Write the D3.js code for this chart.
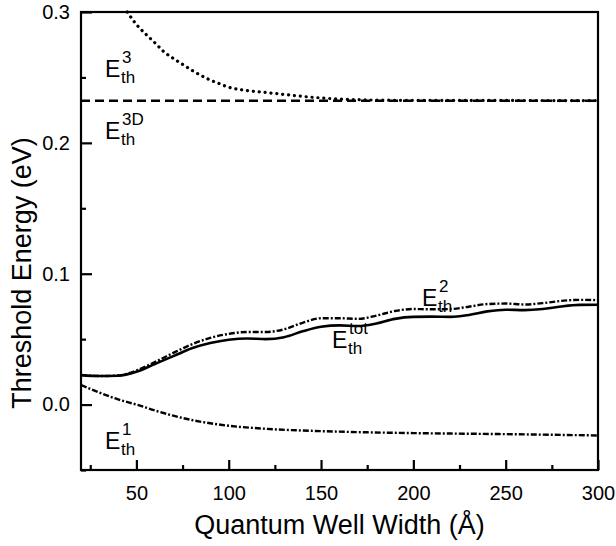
<!DOCTYPE html>
<html>
<head>
<meta charset="utf-8">
<script src="https://cdn.jsdelivr.net/npm/d3@7"></script>
<style>
  body { margin: 0; background: #fff; }
  svg text { font-family: "Liberation Sans", Arial, Helvetica, sans-serif; fill: #000; }
</style>
</head>
<body>
<svg id="svg" width="616" height="546"></svg>
<script>
'use strict';

// Quantum well width (Angstrom) grids and threshold energies (eV)
const widthTot = [20, 30, 40, 50, 60, 70, 80, 90, 100, 110, 120, 130, 140, 150, 160, 170, 180, 190, 200, 210, 220, 230, 240, 250, 260, 270, 280, 290, 300];
const eTot = [0.0225, 0.0218, 0.0220, 0.0250, 0.0310, 0.0370, 0.0430, 0.0470, 0.0495, 0.0505, 0.0500, 0.0515, 0.0560, 0.0595, 0.0605, 0.0600, 0.0620, 0.0655, 0.0670, 0.0672, 0.0670, 0.0685, 0.0712, 0.0725, 0.0722, 0.0730, 0.0750, 0.0762, 0.0763];
const e2 = [0.0225, 0.0218, 0.0222, 0.0260, 0.0325, 0.0395, 0.0460, 0.0510, 0.0540, 0.0555, 0.0555, 0.0575, 0.0625, 0.0660, 0.0660, 0.0655, 0.0680, 0.0715, 0.0730, 0.0728, 0.0730, 0.0748, 0.0768, 0.0772, 0.0765, 0.0775, 0.0792, 0.0800, 0.0798];

const width1 = [20, 30, 40, 50, 60, 70, 80, 90, 100, 120, 150, 175, 200, 250, 300];
const e1 = [0.0150, 0.0092, 0.0040, 0.0000, -0.0045, -0.0085, -0.0118, -0.0143, -0.0162, -0.0185, -0.0203, -0.0212, -0.0218, -0.0226, -0.0236];

const width3 = [45, 50, 55, 60, 65, 70, 75, 80, 85, 90, 95, 100, 110, 120, 130, 140, 150, 160, 170, 180, 200, 250, 300];
const e3 = [0.300, 0.2905, 0.2832, 0.2765, 0.2695, 0.2645, 0.2600, 0.2555, 0.2515, 0.2480, 0.2452, 0.2425, 0.2400, 0.2385, 0.2370, 0.2355, 0.2343, 0.2335, 0.2330, 0.2327, 0.2325, 0.2324, 0.2323];

const width3D = [20, 300];
const e3D = [0.2322, 0.2322];

const xTicks = [50, 100, 150, 200, 250, 300];
const xMinorTicks = [25, 75, 125, 175, 225, 275];
const yTicks = [0.0, 0.1, 0.2, 0.3];
const yMinorTicks = [-0.05, 0.05, 0.15, 0.25];

const margin = { left: 81, right: 18, top: 12, bottom: 76 };
const W = 616, H = 546;

const svg = d3.select('#svg');

const x = d3.scaleLinear().domain([20, 300]).range([margin.left, W - margin.right]);
const y = d3.scaleLinear().domain([-0.05, 0.3]).range([H - margin.bottom, margin.top]);

// Curves
const series = [
  { xs: width3D, ys: e3D, dash: '9,5', sw: 2.4, cap: 'butt' },
  { xs: width3, ys: e3, dash: '0.1,5.8', sw: 3.2, cap: 'round' },
  { xs: width1, ys: e1, dash: '6,2,2,2', sw: 2.4, cap: 'butt' },
  { xs: widthTot, ys: e2, dash: '6,2,2,2', sw: 2.4, cap: 'butt' },
  { xs: widthTot, ys: eTot, dash: null, sw: 2.6, cap: 'butt' },
];

const line = d3.line().x(d => x(d[0])).y(d => y(d[1])).curve(d3.curveMonotoneX);

const plot = svg.append('g');
series.forEach(s => {
  plot.append('path')
    .datum(s.xs.map((v, i) => [v, s.ys[i]]))
    .attr('d', line)
    .attr('fill', 'none')
    .attr('stroke', '#000')
    .attr('stroke-width', s.sw)
    .attr('stroke-linecap', s.cap)
    .attr('stroke-dasharray', s.dash);
});

// Frame
svg.append('rect')
  .attr('x', x(20)).attr('y', y(0.3))
  .attr('width', x(300) - x(20)).attr('height', y(-0.05) - y(0.3))
  .attr('fill', 'none').attr('stroke', '#000').attr('stroke-width', 2.2);

// Axes, ticks point inward
const xAxis = svg.append('g').attr('transform', `translate(0,${y(-0.05)})`)
  .call(d3.axisBottom(x).tickValues(xTicks).tickSizeInner(-10).tickSizeOuter(0).tickPadding(16));
const xMinor = svg.append('g').attr('transform', `translate(0,${y(-0.05)})`)
  .call(d3.axisBottom(x).tickValues(xMinorTicks).tickSize(-5).tickFormat(''));
const yAxis = svg.append('g').attr('transform', `translate(${x(20)},0)`)
  .call(d3.axisLeft(y).tickValues(yTicks).tickFormat(d3.format('.1f')).tickSizeInner(-11).tickSizeOuter(0).tickPadding(11));
const yMinor = svg.append('g').attr('transform', `translate(${x(20)},0)`)
  .call(d3.axisLeft(y).tickValues(yMinorTicks).tickSize(-5).tickFormat(''));

[xAxis, xMinor, yAxis, yMinor].forEach(g => {
  g.select('.domain').remove();
  g.selectAll('.tick line').attr('stroke', '#000').attr('stroke-width', 2.2);
  g.selectAll('.tick text').attr('font-size', 20).attr('font-family', '"Liberation Sans", Arial, sans-serif');
});

// Axis titles
svg.append('text')
  .attr('x', (x(20) + x(300)) / 2).attr('y', 534)
  .attr('text-anchor', 'middle').attr('font-size', 27)
  .text('Quantum Well Width (\u00C5)');

svg.append('text')
  .attr('transform', `translate(31,${(y(0.3) + y(-0.05)) / 2 + 32}) rotate(-90)`)
  .attr('text-anchor', 'middle').attr('font-size', 27)
  .text('Threshold Energy (eV)');

// Curve labels: E with stacked subscript "th" and superscript
const labels = [
  { x: 105, y: 77, sup: '3' },
  { x: 105, y: 139, sup: '3D' },
  { x: 422, y: 306, sup: '2' },
  { x: 332, y: 348, sup: 'tot' },
  { x: 105, y: 449, sup: '1' },
];

labels.forEach(l => {
  const g = svg.append('g').attr('transform', `translate(${l.x},${l.y})`);
  g.append('text').attr('font-size', 23).text('E');
  g.append('text').attr('x', 16).attr('y', 5.5).attr('font-size', 17).text('th');
  g.append('text').attr('x', 17).attr('y', -14.5).attr('font-size', 17).text(l.sup);
});
</script>
</body>
</html>
